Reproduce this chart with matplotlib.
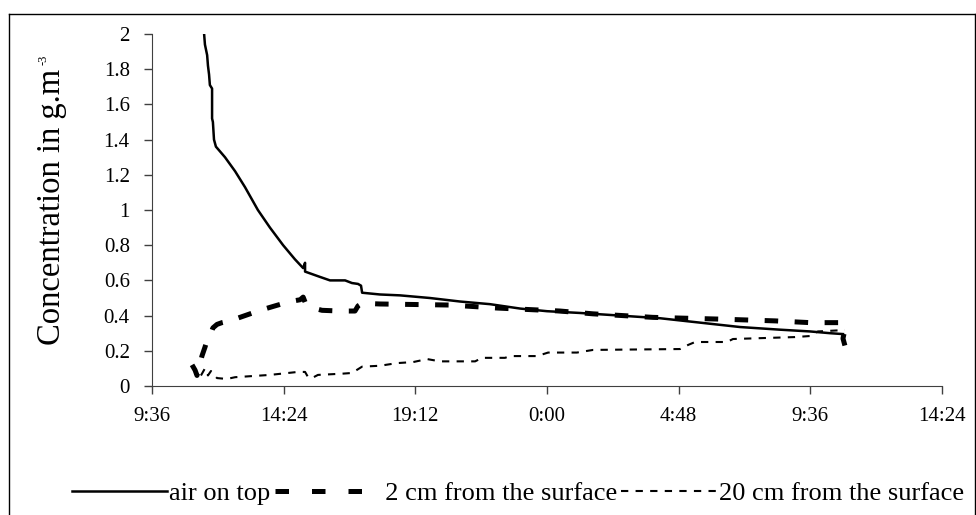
import matplotlib.pyplot as plt
from matplotlib.lines import Line2D

plt.rcParams['font.family'] = ['Liberation Serif', 'DejaVu Serif']

# time in hours from midnight of day 1, concentration in g.m-3
air_h = [11.50, 11.53, 11.61, 11.64, 11.68, 11.71, 11.79, 11.79, 11.82, 11.86,
         11.93, 12.26, 12.63, 12.99, 13.46, 13.90, 14.38, 14.81, 15.11, 15.18,
         15.18, 15.36, 15.72, 16.09, 16.64, 16.89, 17.11, 17.22, 17.26, 17.91,
         18.64, 19.73, 20.83, 21.92, 23.02, 24.00, 25.20, 26.66, 28.12, 29.58,
         31.04, 32.49, 33.59, 34.32, 34.79]
air_c = [2.00, 1.94, 1.88, 1.82, 1.77, 1.71, 1.69, 1.52, 1.50, 1.40,
         1.36, 1.30, 1.22, 1.13, 1.00, 0.90, 0.80, 0.72, 0.67, 0.70,
         0.65, 0.64, 0.62, 0.60, 0.60, 0.585, 0.58, 0.57, 0.53, 0.52,
         0.515, 0.50, 0.48, 0.465, 0.44, 0.425, 0.415, 0.40, 0.385, 0.36,
         0.335, 0.32, 0.31, 0.30, 0.295]

cm2_h = [11.06, 11.17, 11.24, 11.31, 11.42, 11.53, 11.61, 11.68, 11.75, 11.82,
         11.97, 12.15, 12.44, 12.99, 13.54, 14.08, 14.63, 15.00, 15.11, 15.21,
         15.47, 15.80, 16.45, 17.00, 17.11, 17.26, 17.91, 20.46, 22.18, 24.47,
         25.68, 27.86, 30.31, 32.31, 33.59, 34.79, 34.86, 34.79, 34.86]
cm2_c = [0.12, 0.09, 0.06, 0.10, 0.17, 0.22, 0.26, 0.28, 0.30, 0.33,
         0.35, 0.36, 0.37, 0.40, 0.43, 0.455, 0.48, 0.49, 0.505, 0.465,
         0.443, 0.43, 0.426, 0.426, 0.455, 0.47, 0.466, 0.46, 0.443, 0.426,
         0.41, 0.39, 0.38, 0.37, 0.36, 0.36, 0.32, 0.27, 0.23]

cm20_h = [11.10, 11.20, 11.35, 11.53, 11.64, 11.75, 11.82, 11.97, 12.33, 12.63,
          13.90, 14.92, 15.18, 15.29, 15.43, 15.65, 16.53, 16.89, 17.26, 17.91,
          18.53, 19.12, 19.63, 20.10, 21.38, 21.63, 22.47, 22.65, 23.64, 24.04,
          25.09, 25.68, 28.85, 29.14, 29.40, 30.56, 30.78, 33.04, 33.59, 33.88,
          34.86]
cm20_c = [0.11, 0.08, 0.05, 0.10, 0.06, 0.085, 0.07, 0.045, 0.04, 0.05,
          0.063, 0.08, 0.08, 0.05, 0.045, 0.063, 0.07, 0.074, 0.11, 0.115,
          0.13, 0.136, 0.153, 0.14, 0.14, 0.16, 0.16, 0.17, 0.17, 0.19,
          0.19, 0.205, 0.21, 0.233, 0.25, 0.25, 0.267, 0.278, 0.284, 0.31,
          0.318]

tick_h = [9.6, 14.4, 19.2, 24.0, 28.8, 33.6, 38.4]
tick_labels = ['9:36', '14:24', '19:12', '0:00', '4:48', '9:36', '14:24']
y_ticks = [0, 0.2, 0.4, 0.6, 0.8, 1, 1.2, 1.4, 1.6, 1.8, 2]
series_names = ['air on top', '  2 cm from the surface', '20 cm from the surface']

fig = plt.figure(figsize=(9.76, 5.15), dpi=100)
ax = fig.add_axes([152/976, 1 - 386/515, 790/976, 352/515])

ax.plot(air_h, air_c, color='black', lw=1.8)
ax.plot(cm2_h, cm2_c, color='black', lw=3.6, dashes=(2.7, 3.3))
ax.plot(cm20_h, cm20_c, color='black', lw=1.5, dashes=(3.5, 3.5))

ax.set_xlim(9.6, 38.4)
ax.set_ylim(0, 2)
ax.set_xticks(tick_h)
ax.set_xticklabels(tick_labels)
ax.set_yticks(y_ticks)
ax.set_yticklabels([f'{v:g}' for v in y_ticks])
ax.tick_params(direction='out', length=6, width=1, colors='#404040',
               labelcolor='black', labelsize=15)
ax.tick_params(axis='x', pad=9)
ax.tick_params(axis='y', pad=10)
for s in ['top', 'right']:
    ax.spines[s].set_visible(False)
for s in ['left', 'bottom']:
    ax.spines[s].set_color('#404040')

ax.set_ylabel('Concentration in g.m', fontsize=23.5, va='center')
ax.yaxis.set_label_coords((52 - 152) / 790, (386 - 207) / 352)
# small superscript of the unit
fig.text(44/976, 1 - 60/515, '-3', rotation=90, fontsize=9,
         ha='center', va='center')

handles = [Line2D([], [], color='black', lw=1.8),
           Line2D([], [], color='black', lw=3.6, dashes=(2.7, 4.6)),
           Line2D([], [], color='black', lw=1.5, dashes=(3.5, 3.5))]
fig.legend(handles, series_names,
           loc='center', bbox_to_anchor=(518/976, 1 - 493/515), ncol=3,
           frameon=False, fontsize=19, handlelength=3.6, handletextpad=0.1,
           columnspacing=0.15)

# chart area border
fig.add_artist(Line2D([9/976, 9/976], [0, 1 - 14/515], transform=fig.transFigure,
                      color='black', lw=1))
fig.add_artist(Line2D([9/976, 975/976], [1 - 14/515, 1 - 14/515],
                      transform=fig.transFigure, color='black', lw=1))
fig.add_artist(Line2D([975/976, 975/976], [0, 1 - 14/515], transform=fig.transFigure,
                      color='black', lw=1))

fig.savefig('out.png', dpi=100)
